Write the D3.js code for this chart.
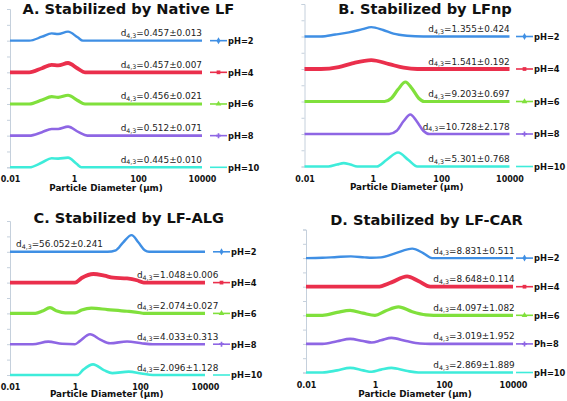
<!DOCTYPE html>
<html><head><meta charset="utf-8">
<script src="https://cdn.jsdelivr.net/npm/d3@7"></script>
<style>body{margin:0;background:#fff} svg{display:block}</style>
</head><body>
<svg id="c" width="567" height="401"></svg>
<script>
// ---------- DATA ----------
const panelTitles = ["A. Stabilized by Native LF", "B. Stabilized by LFnp", "C. Stabilized by LF-ALG", "D. Stabilized by LF-CAR"];
const xTicks = [0.01, 1, 100, 10000];
const xTickLabels = ["0.01", "1", "100", "10000"];
const xAxisTitle = "Particle Diameter (μm)";
const seriesNames = ["pH=2", "pH=4", "pH=6", "pH=8", "pH=10"];
const seriesNamesD = ["pH=2", "pH=4", "pH=6", "Ph=8", "pH=10"];
const seriesOffsets = [8, 6, 4, 2, 0];
const yTicks = [0, 1, 2, 3, 4, 5, 6, 7, 8, 9, 10];

// d4,3 annotations
const annA = ["0.457±0.013", "0.457±0.007", "0.456±0.021", "0.512±0.071", "0.445±0.010"];
const annB = ["1.355±0.424", "1.541±0.192", "9.203±0.697", "10.728±2.178", "5.301±0.768"];
const annC = ["56.052±0.241", "1.048±0.006", "2.074±0.027", "4.033±0.313", "2.096±1.128"];
const annD = ["8.831±0.511", "8.648±0.114", "4.097±1.082", "3.019±1.952", "2.869±1.889"];

// size distributions [diameter µm, relative volume]
const A_pH2  = [[0.01,0],[0.04,0],[0.1,0.25],[0.2,0.46],[0.32,0.42],[0.65,0.57],[1.3,0.21],[1.9,0],[10000,0]];
const A_pH4  = [[0.01,0],[0.04,0],[0.1,0.26],[0.2,0.47],[0.32,0.44],[0.65,0.59],[1.3,0.24],[2.2,0],[10000,0]];
const A_pH6  = [[0.01,0],[0.04,0],[0.1,0.25],[0.2,0.46],[0.32,0.42],[0.65,0.55],[1.3,0.22],[2.2,0],[10000,0]];
const A_pH8  = [[0.01,0],[0.04,0],[0.1,0.22],[0.2,0.42],[0.32,0.42],[0.65,0.57],[1.4,0.22],[2.6,0],[10000,0]];
const A_pH10 = [[0.01,0],[0.04,0],[0.1,0.3],[0.2,0.57],[0.32,0.55],[0.65,0.61],[1.2,0.22],[1.7,0],[10000,0]];

const B_pH2  = [[0.01,0],[0.03,0],[0.08,0.12],[0.2,0.25],[0.5,0.45],[0.9,0.58],[2,0.4],[4,0.18],[10,0.05],[30,0],[10000,0]];
const B_pH4  = [[0.01,0],[0.03,0],[0.1,0.12],[0.25,0.35],[0.9,0.55],[3,0.3],[8,0.08],[20,0],[10000,0]];
const B_pH6  = [[0.01,0],[2.2,0],[3.5,0.2],[5.5,0.75],[9,1.2],[14,0.8],[22,0.2],[32,0],[10000,0]];
const B_pH8  = [[0.01,0],[3,0],[5,0.2],[8,0.8],[12.5,1.2],[19,0.8],[30,0.2],[45,0],[10000,0]];
const B_pH10 = [[0.01,0],[0.05,0],[0.09,0.12],[0.14,0.21],[0.22,0.12],[0.35,0],[1.3,0],[2.5,0.4],[5.5,0.86],[11,0.4],[20,0],[10000,0]];

const C_pH2  = [[0.01,0],[10,0],[18,0.1],[30,0.6],[55,1.08],[90,0.6],[140,0.1],[190,0],[10000,0]];
const C_pH4  = [[0.01,0],[1,0],[1.6,0.3],[3.7,0.56],[8,0.45],[15,0.32],[40,0.27],[80,0.15],[130,0],[10000,0]];
const C_pH6  = [[0.01,0],[0.06,0],[0.1,0.15],[0.17,0.37],[0.28,0.15],[0.5,0.03],[1,0.03],[1.6,0.22],[3.2,0.34],[10,0.25],[40,0.14],[100,0.04],[130,0],[10000,0]];
const C_pH8  = [[0.01,0],[0.05,0],[0.15,0.17],[0.4,0.03],[1,0],[1.4,0.2],[2.9,0.65],[6,0.3],[12,0.06],[40,0.18],[120,0.05],[250,0],[10000,0]];
const C_pH10 = [[0.01,0],[1.2,0],[1.8,0.35],[3.6,0.69],[8,0.3],[14,0.12],[45,0.22],[110,0.1],[250,0],[10000,0]];

const D_pH2  = [[0.01,0],[0.03,0.02],[0.08,0.08],[0.2,0.12],[0.5,0.05],[0.8,0.02],[1.5,0.05],[4,0.35],[12,0.66],[25,0.35],[45,0],[10000,0]];
const D_pH4  = [[0.01,0],[1.2,0],[3,0.3],[8.5,0.72],[18,0.4],[40,0],[10000,0]];
const D_pH6  = [[0.01,0],[0.03,0],[0.08,0.2],[0.19,0.35],[0.45,0.15],[1,0],[2,0.3],[4.8,0.59],[12,0.25],[30,0.03],[50,0],[10000,0]];
const D_pH8  = [[0.01,0],[0.03,0],[0.08,0.18],[0.19,0.35],[0.45,0.2],[0.8,0.1],[1.5,0.25],[3,0.42],[8,0.2],[20,0.03],[40,0],[10000,0]];
const D_pH10 = [[0.01,0],[0.03,0],[0.08,0.15],[0.19,0.32],[0.45,0.15],[0.8,0.05],[1.5,0.2],[3,0.32],[8,0.12],[18,0],[10000,0]];

// ---------- STYLE / LAYOUT ----------
const colors = ["#3f8fe4", "#ea2f4c", "#80e03c", "#8e66e4", "#3eecda"];
const widths = [2.4, 3.8, 3.2, 2.6, 2.6];
const markerTypes = [d3.symbolDiamond, d3.symbolSquare, d3.symbolTriangle, d3.symbolCross, null];

const panels = [
  {series:[A_pH2,A_pH4,A_pH6,A_pH8,A_pH10], ann:annA, names:seriesNames,
   x0:10, x1:202, yb:167.3, yt:9, titleX:128.3, titleY:14, tickY:182, atX:106, atY:190.5, legX:210, annX:202},
  {series:[B_pH2,B_pH4,B_pH6,B_pH8,B_pH10], ann:annB, names:seriesNames,
   x0:304.5, x1:509.5, yb:166.5, yt:4, titleX:425, titleY:13.5, tickY:181.5, atX:406.7, atY:189.5, legX:516, annX:509.7},
  {series:[C_pH2,C_pH4,C_pH6,C_pH8,C_pH10], ann:annC, names:seriesNames,
   x0:10, x1:205, yb:375, yt:221, titleX:128.7, titleY:223.3, tickY:389.5, atX:106.7, atY:396.5, legX:213, annX:218.3, leftAnn:{i:0, x:16}},
  {series:[D_pH2,D_pH4,D_pH6,D_pH8,D_pH10], ann:annD, names:seriesNamesD,
   x0:306, x1:513, yb:372.5, yt:229.5, titleX:426.5, titleY:225, tickY:387.5, atX:415, atY:397, legX:516, annX:514.7}
];

const FONT = "'DejaVu Sans', Verdana, sans-serif";
const svg = d3.select("#c");

panels.forEach((p, pi) => {
  const g = svg.append("g");
  const x = d3.scaleLog().domain([0.01, 10000]).range([p.x0, p.x1]);
  const y = d3.scaleLinear().domain([0, 10]).range([p.yb, p.yt]);

  // y axis (light)
  const ya = g.append("g").attr("transform", `translate(${p.x0},0)`)
    .call(d3.axisLeft(y).tickValues(yTicks).tickSize(3).tickFormat(""));
  ya.selectAll("path,line").attr("stroke", "#c5d0dc").attr("stroke-width", 1);

  // x axis labels
  const xa = g.append("g").attr("transform", `translate(0,${p.tickY})`)
    .call(d3.axisBottom(x).tickValues(xTicks).tickSize(0).tickPadding(0)
      .tickFormat((d, i) => xTickLabels[i]));
  xa.select(".domain").remove();
  xa.selectAll("text").attr("dy", 0).attr("y", 0)
    .attr("font-family", FONT).attr("font-size", 8).attr("font-weight", "bold").attr("fill", "#111");

  // axis title
  g.append("text").attr("x", p.atX).attr("y", p.atY).attr("text-anchor", "middle")
    .attr("font-family", FONT).attr("font-size", 8.8).attr("font-weight", "bold").attr("fill", "#111")
    .text(xAxisTitle);

  // panel title
  g.append("text").attr("x", p.titleX).attr("y", p.titleY).attr("text-anchor", "middle")
    .attr("font-family", FONT).attr("font-size", 14.6).attr("font-weight", "bold").attr("fill", "#111")
    .text(panelTitles[pi]);

  // lines
  p.series.forEach((data, si) => {
    const off = seriesOffsets[si];
    const line = d3.line().x(d => x(d[0])).y(d => y(d[1] + off)).curve(d3.curveMonotoneX);
    g.append("path").datum(data).attr("d", line)
      .attr("fill", "none").attr("stroke", colors[si]).attr("stroke-width", widths[si])
      .attr("stroke-linejoin", "round");

    const by = y(off);
    // legend
    g.append("line").attr("x1", p.legX).attr("x2", p.legX + 17).attr("y1", by).attr("y2", by)
      .attr("stroke", colors[si]).attr("stroke-width", 1.6);
    if (markerTypes[si]) {
      g.append("path").attr("d", d3.symbol().type(markerTypes[si]).size(14)())
        .attr("transform", `translate(${p.legX + 8.5},${by})`).attr("fill", colors[si]);
    }
    g.append("text").attr("x", p.legX + 18).attr("y", by + 3.3)
      .attr("font-family", FONT).attr("font-size", 8.3).attr("font-weight", "bold").attr("fill", "#111")
      .text(p.names[si]);

    // annotation
    const isLeft = p.leftAnn && p.leftAnn.i === si;
    const t = g.append("text").attr("x", isLeft ? p.leftAnn.x : p.annX).attr("y", by - 4.5)
      .attr("text-anchor", isLeft ? "start" : "end")
      .attr("font-family", FONT).attr("font-size", 8.9).attr("fill", "#222");
    t.append("tspan").text("d");
    t.append("tspan").attr("font-size", 6.3).attr("dy", 1.5).text("4,3");
    t.append("tspan").attr("dy", -1.5).text("=" + p.ann[si]);
  });
});
</script>
</body></html>
